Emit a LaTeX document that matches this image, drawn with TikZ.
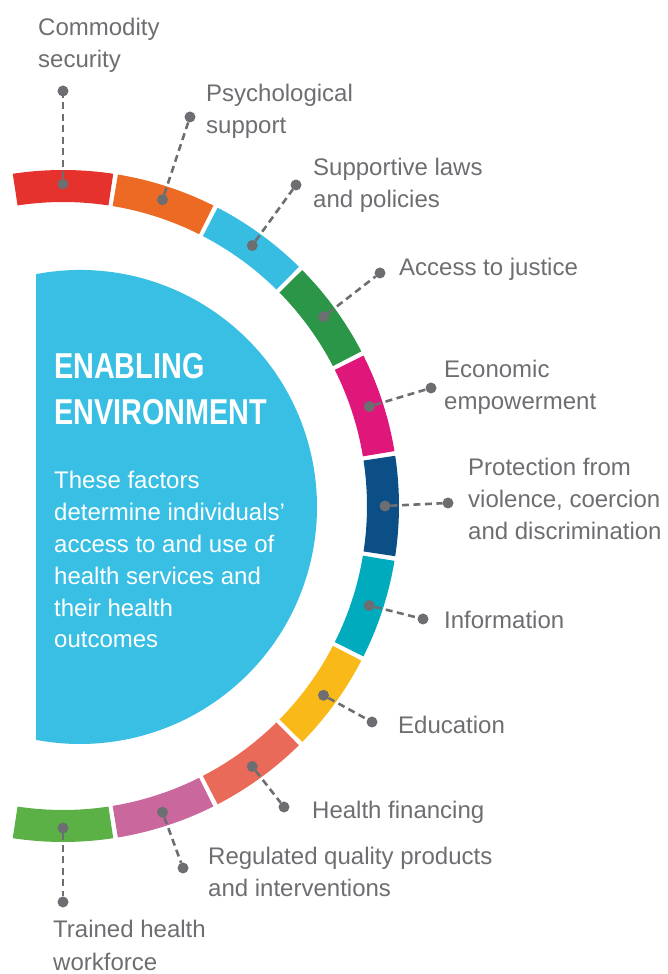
\documentclass[tikz,border=0pt]{standalone}
\usepackage{fontspec}
\setmainfont{Liberation Sans}
\newfontfamily\titlefont[FakeStretch=0.80]{Liberation Sans}
\usetikzlibrary{calc}
\definecolor{cRed}{HTML}{E5322D}
\definecolor{cOrange}{HTML}{EC6A24}
\definecolor{cSky}{HTML}{37BDE2}
\definecolor{cGreen}{HTML}{2B9548}
\definecolor{cMagenta}{HTML}{E0177B}
\definecolor{cNavy}{HTML}{0B4F86}
\definecolor{cTeal}{HTML}{00ABBE}
\definecolor{cYellow}{HTML}{F9B919}
\definecolor{cSalmon}{HTML}{EA6A59}
\definecolor{cMauve}{HTML}{CA679D}
\definecolor{cLime}{HTML}{5CB146}
\definecolor{cDisc}{HTML}{38BFE3}
\definecolor{cGray}{HTML}{6D6E71}
\begin{document}
\begin{tikzpicture}[x=1pt,y=1pt,
  gdot/.style={circle,fill=cGray,minimum size=11pt,inner sep=0pt,outer sep=0pt},
  leader/.style={draw=cGray,line width=2.6pt,dash pattern=on 7pt off 4.5pt},
  lbl/.style={anchor=base west,inner sep=0pt,text=cGray,font=\fontsize{24}{32}\selectfont},
  ttl/.style={anchor=base west,inner sep=0pt,text=white,font=\titlefont\bfseries\fontsize{36}{46}\selectfont},
  bodytext/.style={anchor=base west,inner sep=0pt,text=white,font=\fontsize{24}{31.8}\selectfont}]
\useasboundingbox (0,0) rectangle (667,974);
\coordinate (C) at (63,468);
% central disc
\fill[cDisc] (80,467) ++(100.7:237) arc[start angle=100.7, end angle=-100.7, radius=237pt] -- cycle;
% ring segments
\foreach \col [count=\i from 0] in {cRed,cOrange,cSky,cGreen,cMagenta,cNavy,cTeal,cYellow,cSalmon,cMauve,cLime}{
  \pgfmathsetmacro\a{90-18*\i}
  \fill[\col] ($(C)+(\a+8.6:336)$) arc[start angle=\a+8.6, end angle=\a-8.6, radius=336pt]
     -- ($(C)+(\a-8.6:304)$) arc[start angle=\a-8.6, end angle=\a+8.6, radius=304pt] -- cycle;
  \node[gdot] (s\i) at ($(C)+(\a:322)$) {};
}
% outer dots
\node[gdot] (o0) at (63,883) {};
\node[gdot] (o1) at (190,857) {};
\node[gdot] (o2) at (296,789) {};
\node[gdot] (o3) at (380,701) {};
\node[gdot] (o4) at (431,586) {};
\node[gdot] (o5) at (448,471) {};
\node[gdot] (o6) at (423,355) {};
\node[gdot] (o7) at (372,252) {};
\node[gdot] (o8) at (284,167) {};
\node[gdot] (o9) at (183,106) {};
\node[gdot] (o10) at (63,72) {};
\foreach \i in {0,...,10}{\draw[leader] (s\i) -- (o\i);}
% labels
\node[lbl] (t0) at (38,938) {\vtop{\hbox{Commodity}\hbox{security}}};
\node[lbl] (t1) at (206,872) {\vtop{\hbox{Psychological}\hbox{support}}};
\node[lbl] (t2) at (313,798) {\vtop{\hbox{Supportive laws}\hbox{and policies}}};
\node[lbl] (t3) at (399,698) {Access to justice};
\node[lbl] (t4) at (444,596) {\vtop{\hbox{Economic}\hbox{empowerment}}};
\node[lbl] (t5) at (468,498) {\vtop{\hbox{Protection from}\hbox{violence, coercion}\hbox{and discrimination}}};
\node[lbl] (t6) at (444,345) {Information};
\node[lbl] (t7) at (398,240) {Education};
\node[lbl] (t8) at (312,155) {Health financing};
\node[lbl] (t9) at (208,109) {\vtop{\hbox{Regulated quality products}\hbox{and interventions}}};
\node[lbl] (t10) at (53,36) {\vtop{\hbox{Trained health}\hbox{workforce}}};
% disc text
\node[ttl] (title) at (54,595) {\vtop{\hbox{ENABLING}\hbox{ENVIRONMENT}}};
\node[bodytext] (body) at (54,485) {\vtop{\hbox{These factors}\hbox{determine individuals’}\hbox{access to and use of}\hbox{health services and}\hbox{their health}\hbox{outcomes}}};
\end{tikzpicture}
\end{document}
